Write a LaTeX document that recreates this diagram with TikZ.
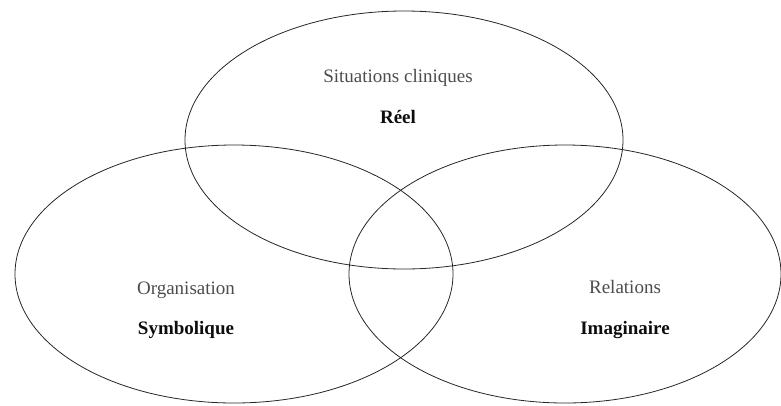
\documentclass[tikz,border=0pt]{standalone}
\usepackage{fontspec}
\setmainfont{Liberation Serif}
\usetikzlibrary{positioning}

\begin{document}
\begin{tikzpicture}[x=1pt,y=-1pt,
  ring/.style={draw=black!85,line width=0.8pt},
  aspect/.style={anchor=base,text=black!70,font=\fontsize{19}{22}\selectfont},
  register/.style={anchor=base,text=black!95,font=\fontsize{19}{22}\selectfont\bfseries}]
\useasboundingbox (0,0) rectangle (781,405);
% the three registers
\coordinate (reel) at (404,140);
\coordinate (symb) at (234,274);
\coordinate (imag) at (565,274);
\draw[ring] (reel) ellipse [x radius=219,y radius=129];
\draw[ring] (symb) ellipse [x radius=219,y radius=129];
\draw[ring] (imag) ellipse [x radius=216,y radius=129];
% labels
\node[aspect]   (clin) at (398,82)  {Situations cliniques};
\node[register] (re)   at (398,123) {Réel};
\node[aspect]   (orga) at (186,294) {Organisation};
\node[register] (sy)   at (186,334) {Symbolique};
\node[aspect]   (rel)  at (625,293) {Relations};
\node[register] (im)   at (625,334) {Imaginaire};
\end{tikzpicture}
\end{document}
